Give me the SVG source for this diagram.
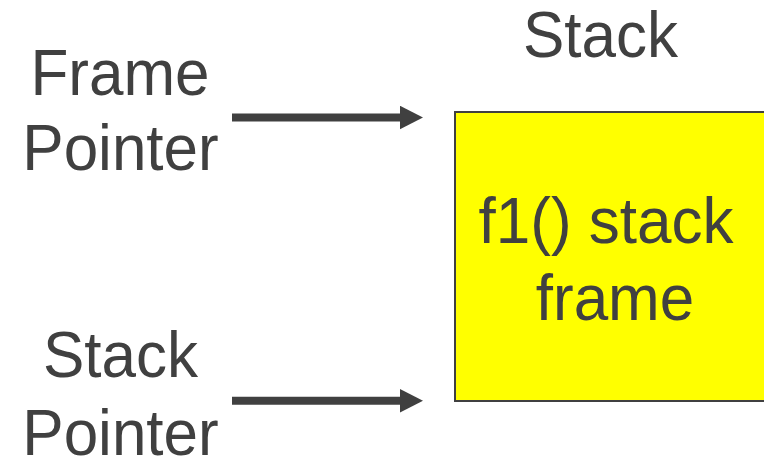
<svg xmlns="http://www.w3.org/2000/svg" width="764" height="456" viewBox="0 0 764 456">
  <defs>
    <marker id="head" markerUnits="userSpaceOnUse" markerWidth="24" markerHeight="24" refX="0" refY="11.75" orient="auto">
      <path d="M0,0 L23,11.75 L0,23.5 z" fill="#404040"/>
    </marker>
  </defs>
  <style>
    .t { font-family: "Liberation Sans", Arial, sans-serif; font-size: 62px; fill: #404040; text-anchor: middle; }
    .c { stroke: #404040; stroke-width: 8; fill: none; }
  </style>
  <rect width="764" height="456" fill="#ffffff"/>
  <g id="stack-title">
    <text class="t" transform="translate(600.5,57) scale(1,1.05)">Stack</text>
  </g>
  <g id="frame-pointer">
    <text class="t" transform="translate(120,94.5) scale(1,1.05)">Frame</text>
    <text class="t" transform="translate(120.5,170) scale(1,1.05)">Pointer</text>
  </g>
  <g id="stack-pointer">
    <text class="t" transform="translate(120.5,376.5) scale(1,1.05)">Stack</text>
    <text class="t" transform="translate(120.5,455) scale(1,1.05)">Pointer</text>
  </g>
  <g id="f1-frame">
    <rect x="455" y="112" width="330" height="289" fill="#ffff00" stroke="#404040" stroke-width="2"/>
    <text class="t" transform="translate(606,243) scale(1,1.05)">f1() stack</text>
    <text class="t" transform="translate(615,320) scale(1,1.05)">frame</text>
  </g>
  <g id="connectors">
    <line class="c" x1="232" y1="117.5" x2="400" y2="117.5" marker-end="url(#head)"/>
    <line class="c" x1="232" y1="400.8" x2="400" y2="400.8" marker-end="url(#head)"/>
  </g>
</svg>
